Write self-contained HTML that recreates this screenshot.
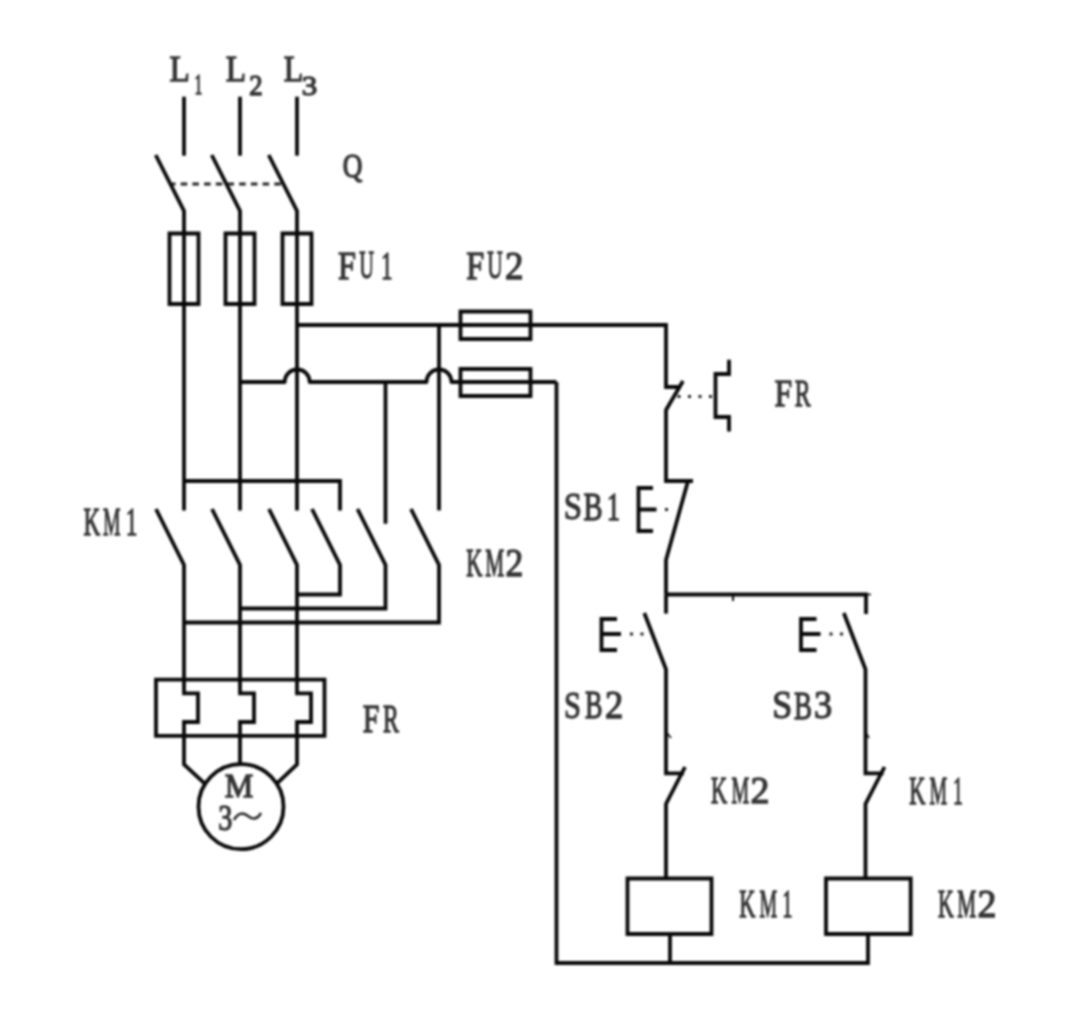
<!DOCTYPE html>
<html><head><meta charset="utf-8"><style>
html,body{margin:0;padding:0;background:#fff;}
body{width:1080px;height:1035px;overflow:hidden;}
svg{display:block;}
#wrap{filter:blur(0.8px);width:1080px;height:1035px;}
text{font-family:"Liberation Serif",serif;stroke:#333;stroke-width:1.3px;}
</style></head><body>
<div id="wrap"><svg width="1080" height="1035" viewBox="0 0 1080 1035">
<rect width="1080" height="1035" fill="#fff"/>
<g fill="none" stroke="#080808" stroke-width="3.8" stroke-linecap="butt" stroke-linejoin="miter">
<path d="M184 96.7V155.7" />
<path d="M155.7 155L184 211V510.4" />
<path d="M169.5 233.5H198.5V304H169.5Z" />
<path d="M240 96.7V155.7" />
<path d="M211.7 155L240 211V510.4" />
<path d="M225.5 233.5H254.5V304H225.5Z" />
<path d="M297 96.7V155.7" />
<path d="M268.7 155L297 211V510.4" />
<path d="M282.5 233.5H311.5V304H282.5Z" />
<path d="M172 184H283" stroke-dasharray="6.5 5.2" stroke-dashoffset="3" stroke-width="2.8" stroke="#222"/>
<path d="M297 325H666V387H681" />
<path d="M683 381L666 410V481H693" />
<path d="M240 382H284.7A12.5 12.5 0 0 1 309.7 382H426.5A12.5 12.5 0 0 1 451.5 382H556.5" stroke-linejoin="round"/>
<path d="M556.5 382V963H868V934" />
<path d="M460.5 311.5H530.5V339H460.5Z" />
<path d="M460.5 369H530.5V396H460.5Z" />
<path d="M385.5 382V523.7" />
<path d="M439 325V510.4" />
<path d="M184 481H340V510.4" />
<path d="M156 509L184 565V693.3H198V722H184V764.5L204.5 783.4" />
<path d="M212 509L240 565V693.3H254V722H240V764.2" />
<path d="M269 509L297 565V693.3H311V722H297V764.5L277 783.4" />
<path d="M312 509L340 565V594.5H297" />
<path d="M357.5 509L385.5 565V608.5H240" />
<path d="M411 509L439 565V622.5H184" />
<path d="M156 679.7H324.5V735.8H156Z" />
<circle cx="241" cy="806.7" r="42.5"/>
<path d="M729 359.7V374H715.5V417H729V431.6" />
<path d="M677.5 396.5H714" stroke-dasharray="3 7.5" stroke-width="3" stroke="#222"/>
<path d="M688 481L666 560V594.5" />
<path d="M653 488H638.5V531H653M638.5 509.5H656.5" />
<path d="M665 509.5H668" stroke-width="3" stroke="#222"/>
<path d="M666 594.5H866V614" />
<path d="M666 594.5V613.6" />
<path d="M644.3 613L666 669.3V773.3H684" />
<path d="M685 767L666 804V878" />
<path d="M617 619H601.5V650H617M601.5 634H621" />
<path d="M630 634H645" stroke-dasharray="3 7.5" stroke-width="3" stroke="#222"/>
<path d="M843.8 613L865.5 669.3V773.3H883.5" />
<path d="M884.5 767L865.5 804V878" />
<path d="M816.5 619H801.0V650H816.5M801.0 634H820.5" />
<path d="M829.5 634H844.5" stroke-dasharray="3 7.5" stroke-width="3" stroke="#222"/>
<path d="M627.5 878.5H711.5V934H627.5Z" />
<path d="M670 934V963" />
<path d="M826 878.5H910.7V934H826Z" />
<path d="M733 595V601" stroke-width="2"/>
<path d="M866 594.5H871" stroke-width="1.6"/>
<path d="M667 733L671 738" stroke-width="1.6"/>
<path d="M866 733L869 738" stroke-width="1.6"/>

</g>
<g fill="#333">
<text transform="translate(169.50 80.70) scale(0.908 1)" font-size="36.64">L</text>
<text transform="translate(194.38 94.10) scale(0.544 1)" font-size="28.48">1</text>
<text transform="translate(225.80 80.70) scale(0.908 1)" font-size="36.64">L</text>
<text transform="translate(249.30 94.80) scale(0.939 1)" font-size="28.48">2</text>
<text transform="translate(283.64 80.70) scale(0.871 1)" font-size="36.64">L</text>
<text transform="translate(301.70 94.52) scale(1.108 1)" font-size="28.06">3</text>
<text transform="translate(342.71 177.22) scale(0.794 1)" font-size="34.27">Q</text>
<text transform="translate(337.93 278.80) scale(0.806 1)" font-size="40.00">F</text>
<text transform="translate(359.29 278.41) scale(0.519 1)" font-size="39.40">U</text>
<text transform="translate(381.04 278.80) scale(0.582 1)" font-size="39.70">1</text>
<text transform="translate(466.23 278.70) scale(0.800 1)" font-size="40.31">F</text>
<text transform="translate(487.27 278.30) scale(0.537 1)" font-size="39.70">U</text>
<text transform="translate(504.94 278.70) scale(0.925 1)" font-size="40.00">2</text>
<text transform="translate(774.45 406.10) scale(0.813 1)" font-size="38.93">F</text>
<text transform="translate(794.69 406.10) scale(0.611 1)" font-size="38.93">R</text>
<text transform="translate(563.77 519.31) scale(0.842 1)" font-size="38.96">S</text>
<text transform="translate(583.54 519.50) scale(0.724 1)" font-size="39.55">B</text>
<text transform="translate(606.63 519.70) scale(0.677 1)" font-size="39.55">1</text>
<text transform="translate(83.51 534.80) scale(0.569 1)" font-size="40.61">K</text>
<text transform="translate(102.91 534.80) scale(0.484 1)" font-size="40.61">M</text>
<text transform="translate(125.81 534.80) scale(0.580 1)" font-size="40.30">1</text>
<text transform="translate(466.23 576.40) scale(0.559 1)" font-size="40.00">K</text>
<text transform="translate(485.16 576.40) scale(0.533 1)" font-size="40.00">M</text>
<text transform="translate(505.60 576.40) scale(0.894 1)" font-size="39.70">2</text>
<text transform="translate(563.92 717.91) scale(0.782 1)" font-size="38.96">S</text>
<text transform="translate(585.01 718.10) scale(0.664 1)" font-size="39.55">B</text>
<text transform="translate(604.96 718.30) scale(0.923 1)" font-size="39.55">2</text>
<text transform="translate(772.16 718.40) scale(0.908 1)" font-size="39.70">S</text>
<text transform="translate(794.09 718.60) scale(0.669 1)" font-size="40.30">B</text>
<text transform="translate(813.96 718.40) scale(0.916 1)" font-size="39.70">3</text>
<text transform="translate(362.81 732.00) scale(0.748 1)" font-size="39.85">F</text>
<text transform="translate(382.89 732.00) scale(0.597 1)" font-size="39.85">R</text>
<text transform="translate(710.93 802.80) scale(0.586 1)" font-size="38.17">K</text>
<text transform="translate(731.40 802.80) scale(0.521 1)" font-size="38.17">M</text>
<text transform="translate(750.49 802.80) scale(1.003 1)" font-size="37.88">2</text>
<text transform="translate(909.23 803.70) scale(0.559 1)" font-size="40.00">K</text>
<text transform="translate(929.40 803.70) scale(0.497 1)" font-size="40.00">M</text>
<text transform="translate(952.92 803.70) scale(0.497 1)" font-size="39.70">1</text>
<text transform="translate(739.23 917.00) scale(0.559 1)" font-size="40.00">K</text>
<text transform="translate(759.40 917.00) scale(0.497 1)" font-size="40.00">M</text>
<text transform="translate(782.25 917.00) scale(0.518 1)" font-size="39.70">1</text>
<text transform="translate(937.95 916.70) scale(0.544 1)" font-size="40.00">K</text>
<text transform="translate(957.16 916.70) scale(0.533 1)" font-size="40.00">M</text>
<text transform="translate(977.49 916.70) scale(0.957 1)" font-size="39.70">2</text>
<text transform="translate(224.84 796.80) scale(0.963 1)" font-size="33.28">M</text>
<text transform="translate(218.13 830.33) scale(0.771 1)" font-size="36.57">3</text>
<path d="M234 820C238 812 244 812.5 248 816C252 819.5 257 820 261 813" fill="none" stroke="#2a2a2a" stroke-width="2.6"/>
</g>
</svg></div>
</body></html>
